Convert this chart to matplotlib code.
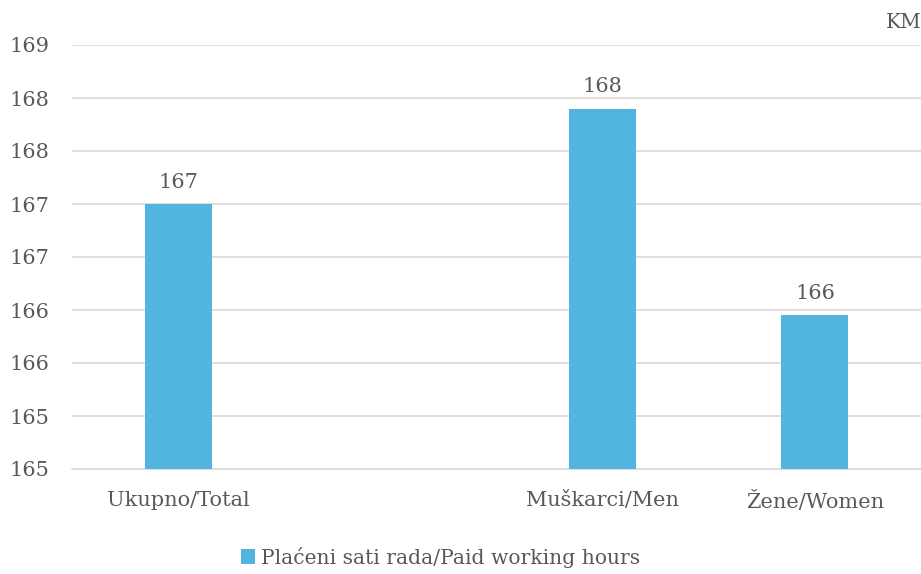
import matplotlib
matplotlib.use("Agg")
import matplotlib.pyplot as plt
from matplotlib.patches import Patch

categories = ["Ukupno/Total", "", "Muškarci/Men", "Žene/Women"]
values = [167.3, None, 168.2, 166.25]
series_name = "Plaćeni sati rada/Paid working hours"
yticks = [164.8, 165.3, 165.8, 166.3, 166.8, 167.3, 167.8, 168.3, 168.8]
unit = "KM"

bar_color = "#52B4E0"
text_color = "#595959"
grid_color = "#D9D9D9"

plt.rcParams['font.family'] = ['DejaVu Serif']

fig = plt.figure(figsize=(9.21, 5.74), dpi=100)
ax = fig.add_axes([72/921, 1-469/574, 1-72/921, (469-45)/574])

xs = [i for i, v in enumerate(values) if v is not None]
vs = [v for v in values if v is not None]
bars = ax.bar(xs, vs, width=0.316, color=bar_color, zorder=3)
for x, v in zip(xs, vs):
    ax.annotate(f"{v:.0f}", (x, v), xytext=(0, 9), textcoords="offset points",
                ha="center", va="bottom", fontsize=15, color=text_color)

ax.set_xlim(-0.5, 3.5)
ax.set_ylim(yticks[0], yticks[-1])
ax.set_yticks(yticks)
ax.set_yticklabels([f"{t:.0f}" for t in yticks])
ax.set_xticks(range(len(categories)))
ax.set_xticklabels(categories)
ax.tick_params(axis='both', length=0, labelsize=15, labelcolor=text_color)
ax.tick_params(axis='y', pad=16)
ax.tick_params(axis='x', pad=16)
ax.grid(axis='y', color=grid_color, linewidth=1.2, zorder=0)
for s in ['top', 'right', 'left']:
    ax.spines[s].set_visible(False)
ax.spines['bottom'].set_color(grid_color)
ax.spines['bottom'].set_linewidth(1.2)

fig.text(904/921, 1-22/574, unit, ha="center", va="center", fontsize=14.5, color=text_color)

handle = Patch(facecolor=bar_color, edgecolor='none')
fig.legend([handle], [series_name], loc="center", bbox_to_anchor=(0.478, 1-557/574),
           frameon=False, fontsize=14.6, labelcolor=text_color,
           handlelength=0.7, handleheight=0.7, handletextpad=0.3)

fig.savefig("out.png", dpi=100)
